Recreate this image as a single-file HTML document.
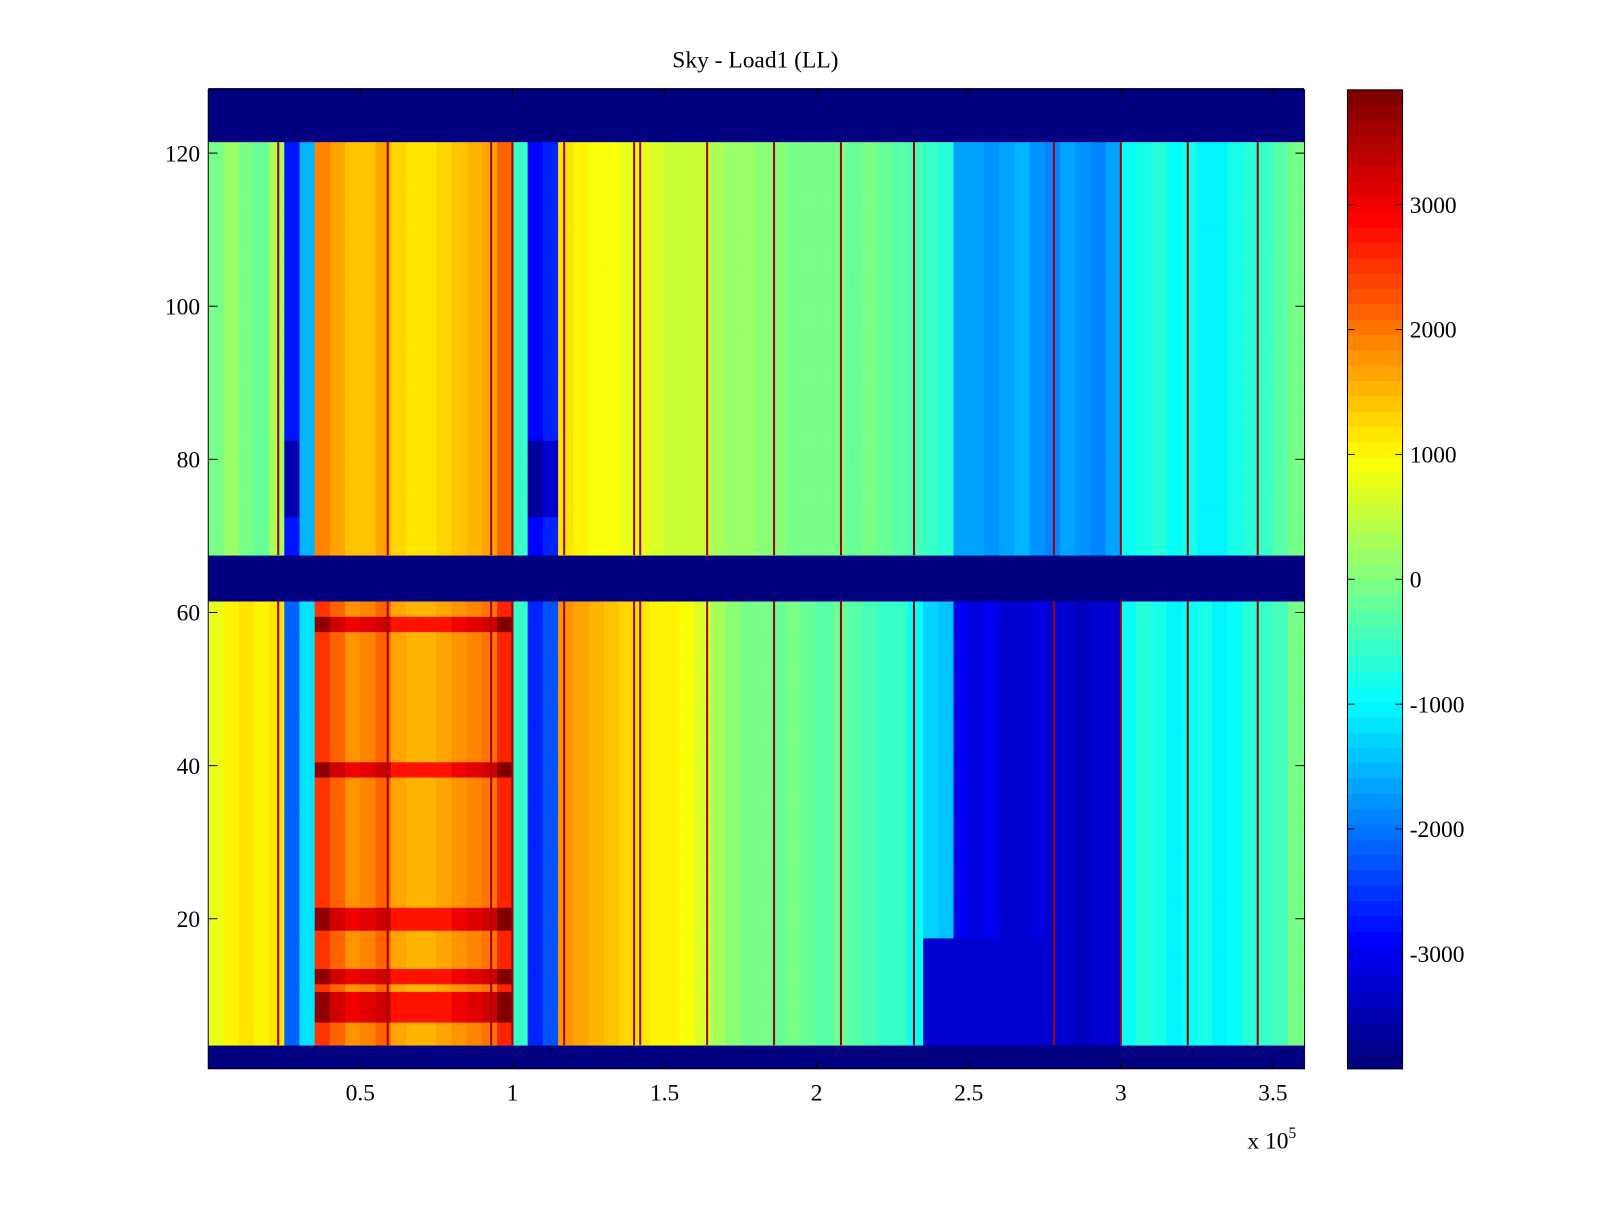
<!DOCTYPE html>
<html><head><meta charset="utf-8">
<style>
html,body{margin:0;padding:0;background:#fff;}
svg text{font-family:"Liberation Serif",serif;font-size:23px;fill:#000;}
</style></head>
<body>
<svg id="chart" width="1600" height="1200" xmlns="http://www.w3.org/2000/svg">
<rect width="1600" height="1200" fill="#fff"/>
<g transform="scale(1.0208)">
<text x="740" y="66" text-anchor="middle">Sky - Load1 (LL)</text>
<g id="cells"></g>
<g id="lines"></g>
<g id="axes"></g>
<g id="cbar"></g>
<text x="1222" y="1125">x 10<tspan dy="-10" font-size="15">5</tspan></text>
</g>
</svg>
<script>
// x bins: 72 columns of 0.05e5 each, from 0 to 3.6e5
const xBinWidth = 0.05;
const upperVals = [0,200,0,-200,300,-2800,-1500,1900,1600,1400,1400,1700,1300,1200,1200,1300,1400,1500,1600,2200,-600,-2900,-2600,1200,1000,900,900,800,800,700,600,600,500,300,200,200,100,100,0,0,-100,0,-200,-100,-200,-300,-400,-500,-700,-1700,-1600,-1800,-1700,-1500,-1800,-1900,-1700,-1800,-1900,-1700,-900,-800,-700,-900,-800,-1000,-1100,-800,-700,-500,-300,0];
const lowerVals = [800,1100,1200,1000,1200,-2200,-1200,2500,2100,1800,1900,2100,1600,1500,1500,1600,1800,1900,2000,2600,-600,-2600,-2300,1800,1700,1500,1400,1300,1200,1100,1000,900,700,300,100,0,-100,-200,-100,-200,-300,-200,-300,-400,-500,-600,-900,-1300,-1400,-3000,-3100,-3000,-3200,-3300,-3100,-3200,-3300,-3400,-3300,-3200,-900,-700,-800,-1000,-900,-800,-1100,-900,-700,-600,-400,-100];
const maskedRows = [1,2,3,62,63,64,65,66,67,122,123,124,125,126,127,128];
const hotRows = [7,8,9,10,12,13,19,20,21,39,40,58,59];
const deepBlueRows = [4,5,6,7,8,9,10,11,12,13,14,15,16,17];
const lineXs = [0.23,0.59,0.93,1.0,1.17,1.4,1.42,1.64,1.86,2.08,2.32,2.78,3.0,3.22,3.45];
const xTicks = [0.5,1,1.5,2,2.5,3,3.5];
const yTicks = [20,40,60,80,100,120];
const cTicks = [-3000,-2000,-1000,0,1000,2000,3000];

const L=204,R=1278,T=88,B=1047, XMAX=3.604, CMIN=-3920, CMAX=3920;
const xs = v => L + v/XMAX*(R-L);
const ys = r => 1050 - 7.5*r;
const NS='http://www.w3.org/2000/svg';
function jet(v){
  let t=(v-CMIN)/(CMAX-CMIN); t=Math.max(0,Math.min(1,t));
  t=Math.floor(t*63.999)/63;
  const c=x=>Math.round(255*Math.max(0,Math.min(1,x)));
  return `rgb(${c(1.5-Math.abs(4*t-3))},${c(1.5-Math.abs(4*t-2))},${c(1.5-Math.abs(4*t-1))})`;
}
function mk(tag,attrs,parent){const e=document.createElementNS(NS,tag);for(const k in attrs)e.setAttribute(k,attrs[k]);parent.appendChild(e);return e;}
const cells=document.getElementById('cells');
for(let r=1;r<=128;r++){
  for(let i=0;i<upperVals.length;i++){
    let v;
    if(maskedRows.includes(r)) v=CMIN;
    else if(r>=68){ v=upperVals[i]; if(v<-2000 && r>=73 && r<=82) v-=700; }
    else { v=lowerVals[i];
      if(hotRows.includes(r) && v>1000 && i>=7 && i<=19) v+=1200;
      if(deepBlueRows.includes(r) && i>=47 && i<=59) v=Math.min(v,-3200);
    }
    const x0=xs(i*xBinWidth), x1=xs((i+1)*xBinWidth);
    const el=mk('rect',{x:x0.toFixed(2),y:(ys(r)-3.75).toFixed(2),width:(x1-x0+0.6).toFixed(2),height:8,fill:jet(v)},cells);
    
    
  }
}
const lines=document.getElementById('lines');
lineXs.forEach(lx=>{
  [[4,61],[68,121]].forEach(([a,b])=>{
    const el=mk('rect',{x:xs(lx)-1,y:ys(b)-3.75,width:2,height:(b-a+1)*7.5,fill:'#a00000'},lines);
    
    
  });
});
const axes=document.getElementById('axes');
mk('rect',{x:L,y:T,width:R-L,height:B-T,fill:'none',stroke:'#000','stroke-width':1},axes);
xTicks.forEach(t=>{
  const x=xs(t);
  mk('line',{x1:x,y1:B,x2:x,y2:B-9,stroke:'#000'},axes);
  mk('line',{x1:x,y1:T,x2:x,y2:T+9,stroke:'#000'},axes);
  const tx=mk('text',{x:x,y:B+31,'text-anchor':'middle'},axes);tx.textContent=t;
  
  
});
yTicks.forEach(t=>{
  const y=ys(t);
  mk('line',{x1:L,y1:y,x2:L+9,y2:y,stroke:'#000'},axes);
  mk('line',{x1:R,y1:y,x2:R-9,y2:y,stroke:'#000'},axes);
  const tx=mk('text',{x:L-8,y:y+8,'text-anchor':'end'},axes);tx.textContent=t;
  
  
});
const cb=document.getElementById('cbar');
const CL=1320,CR=1374;
for(let k=0;k<64;k++){
  const v0=CMIN+(CMAX-CMIN)*k/64, v1=CMIN+(CMAX-CMIN)*(k+1)/64;
  const yt=T+(CMAX-v1)/(CMAX-CMIN)*(B-T), yb=T+(CMAX-v0)/(CMAX-CMIN)*(B-T);
  const el=mk('rect',{x:CL,y:yt,width:CR-CL,height:yb-yt+0.5,fill:jet((v0+v1)/2)},cb);
  
  
}
mk('rect',{x:CL,y:T,width:CR-CL,height:B-T,fill:'none',stroke:'#000'},cb);
cTicks.forEach(t=>{
  const y=T+(CMAX-t)/(CMAX-CMIN)*(B-T);
  mk('line',{x1:CL,y1:y,x2:CL+7,y2:y,stroke:'#000'},cb);
  mk('line',{x1:CR,y1:y,x2:CR-7,y2:y,stroke:'#000'},cb);
  const tx=mk('text',{x:CR+7,y:y+8},cb);tx.textContent=t;
  
  
});
</script>
</body></html>
